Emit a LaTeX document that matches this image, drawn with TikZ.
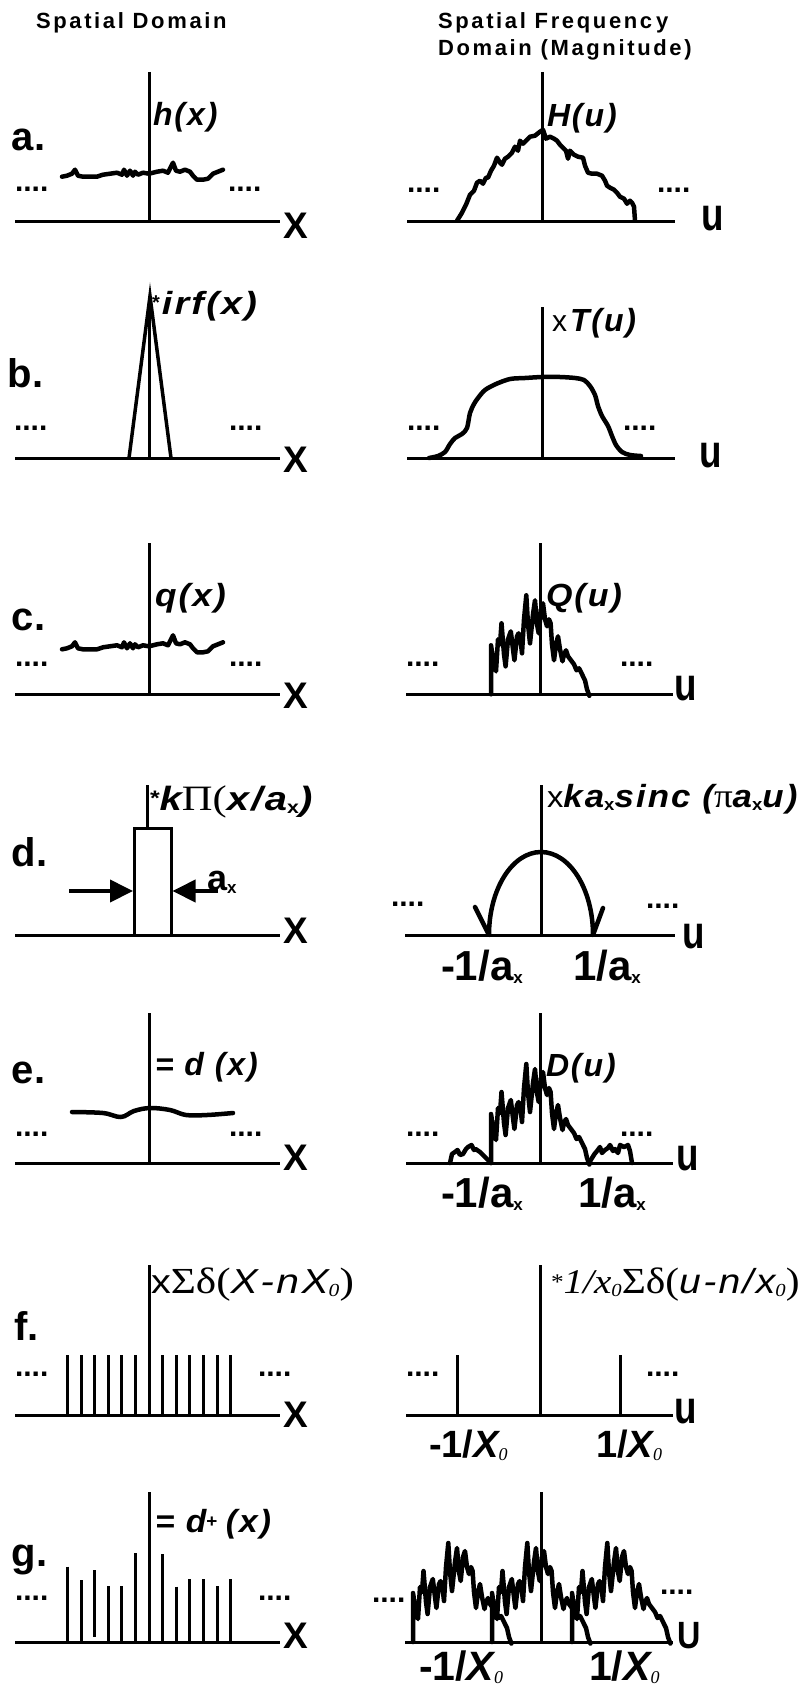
\documentclass[tikz,border=0pt]{standalone}
\usepackage{fontspec}
\setmainfont{Liberation Sans}
\newfontfamily\SA{Liberation Sans}
\newfontfamily\SAL{Liberation Sans}[LetterSpace=6]
\newfontfamily\SAT{Liberation Sans}[LetterSpace=12]
\newfontfamily\SE{Liberation Serif}
\usetikzlibrary{arrows.meta}
\newcommand\fs[1]{\fontsize{#1}{#1}\selectfont}
\newcommand\FN{\SAL\bfseries\itshape\fs{32}}
\newcommand\sbs[1]{\raisebox{-0.35em}{\SA\bfseries\fs{17}#1}}
\newcommand\sbi[1]{\raisebox{-0.35em}{\SE\itshape\fs{18}#1}}
\newcommand\stx{\raisebox{0.42em}{\SA\bfseries\fs{20}*}}
\newcommand\AX{\SA\bfseries\fs{37}}
\newcommand\UU{\scalebox{0.8}[1]{\SA\bfseries\fs{46}u}}
\newcommand\RL{\SA\bfseries\fs{40}}
\newcommand\TK{\SA\bfseries\fs{42}}
\newcommand\TKX{\SA\bfseries\fs{38}}
\newcommand\hsig[1]{\begin{scope}[shift={(0,#1)}]
\draw[sig] (62,-45) -- (67,-46) -- (72,-48) -- (75,-52) -- (78,-46) -- (83,-45) -- (90,-45) -- (97,-45) -- (103,-47) -- (110,-48) -- (117,-49) -- (122,-47) -- (124,-52) -- (127,-46) -- (130,-51) -- (133,-46) -- (135,-50) -- (138,-47) -- (143,-49) -- (149,-48) -- (157,-50) -- (163,-51) -- (168,-49) -- (173,-59) -- (176,-51) -- (180,-50) -- (185,-52) -- (190,-50) -- (193,-46) -- (197,-42) -- (203,-42) -- (208,-43) -- (213,-48) -- (218,-50) -- (223,-52);
\end{scope}}
\newcommand\qsig[2]{\begin{scope}[shift={(#1,#2)}]
\draw[sig] (-49,0) -- (-49,-49) -- (-46,-30) -- (-44,-23) -- (-42,-55) -- (-40,-50) -- (-38.5,-71) -- (-36,-40) -- (-34.4,-28) -- (-32,-55) -- (-29.2,-63) -- (-27,-45) -- (-25.6,-34) -- (-23,-58) -- (-21.4,-61) -- (-19,-50) -- (-18,-41) -- (-16,-75) -- (-13.7,-99) -- (-12,-70) -- (-10,-51) -- (-7,-80) -- (-5,-94) -- (-3,-70) -- (-1.3,-61) -- (1,-85) -- (3,-91) -- (5,-75) -- (7,-68) -- (9,-75) -- (10.6,-71) -- (12,-50) -- (14,-34) -- (16,-50) -- (18,-58) -- (20,-45) -- (22.5,-33) -- (24,-40) -- (26,-44) -- (28,-38) -- (31,-34) -- (34,-30) -- (36.5,-24) -- (39,-26) -- (41.6,-21) -- (43,-18) -- (45,-14) -- (47,-5) -- (49.4,1.5);
\end{scope}}
\begin{document}
\begin{tikzpicture}[x=1pt,y=-1pt,
  axis/.style={line width=3pt},
  sig/.style={line width=4.5pt,line join=round,line cap=round},
  spike/.style={line width=3pt},
  lbl/.style={inner sep=0pt,outer sep=0pt,anchor=base west},
  dotsn/.style={inner sep=0pt,outer sep=0pt,anchor=base west,font=\SA\bfseries\fs{30}},
  arr/.style={line width=4pt,-{Triangle[length=23pt,width=22pt]}}]
\fill[white] (0,0) rectangle (811,1686);
\useasboundingbox (0,0) rectangle (811,1686);
% titles
\node[lbl,font=\SAT\bfseries\fs{22}] (t1) at (36,29) {Spatial Domain};
\node[lbl,font=\SAT\bfseries\fs{22}] (t2) at (438,29) {Spatial Frequenc\hspace{4pt}y};
\node[lbl,font=\SAT\bfseries\fs{22}] (t3) at (438,56) {Domain (Magnitude)};
% ---------------- row a
\node[lbl,font=\RL] (la) at (12,150) {a.};
\draw[axis] (15,221.7) -- (280,221.7);
\draw[axis] (149,72) -- (149,221.7);
\node[lbl] (ax) at (283,238) {\AX X};
\node[lbl] (ah) at (153,125) {\FN h(x)};
\node[dotsn] (ad1) at (15,191) {....};
\node[dotsn] (ad2) at (228,191) {....};
\hsig{221.7}
\draw[axis] (407,221.7) -- (675,221.7);
\draw[axis] (542.7,72) -- (542.7,221.7);
\node[lbl] (au) at (701,230) {\UU};
\node[lbl] (aH) at (547,126) {\FN H(u)};
\node[dotsn] (ad3) at (407,192) {....};
\node[dotsn] (ad4) at (657,192) {....};
\begin{scope}[shift={(0,220.7)}]
\draw[sig] (457,0) -- (462,-8) -- (466,-16) -- (468,-21) -- (470,-26) -- (474,-30) -- (477,-38) -- (480,-40) -- (483,-37) -- (486,-43) -- (488,-43) -- (491,-50) -- (494,-55) -- (497,-63) -- (500,-58) -- (502,-56) -- (505,-62) -- (508,-64) -- (512,-68) -- (515,-74) -- (518,-70) -- (520,-80) -- (523,-77) -- (526,-80) -- (530,-84) -- (535,-85) -- (540,-89) -- (543,-91) -- (546,-82) -- (550,-84) -- (554,-82) -- (557,-80) -- (560,-76) -- (563,-73) -- (566,-70) -- (568,-62) -- (570,-70) -- (574,-66) -- (578,-64) -- (583,-63) -- (585,-55) -- (588,-48) -- (592,-47) -- (597,-47) -- (602,-45) -- (605,-40) -- (607,-35) -- (610,-33) -- (614,-31) -- (617,-28) -- (620,-24) -- (624,-22) -- (627,-17) -- (630,-20) -- (632,-18) -- (634,-14) -- (635,0);
\end{scope}
% ---------------- row b
\node[lbl,font=\RL] (lb) at (8,387) {b.};
\draw[axis] (15,458) -- (280,458);
\draw[axis] (149,296) -- (149,458);
\draw[line width=3.5pt,line join=miter] (129,458) -- (150,296) -- (171,458);
\node[lbl] (bx) at (283,472) {\AX X};
\node[lbl] (birf) at (152,314) {\stx\hspace{2pt}\scalebox{1.18}[1]{\FN irf(x)}};
\node[dotsn] (bd1) at (14,430) {....};
\node[dotsn] (bd2) at (229,430) {....};
\draw[axis] (407,458) -- (675,458);
\draw[axis] (542,307) -- (542,458);
\node[lbl] (bu) at (699,467) {\UU};
\node[lbl] (bT) at (552,331) {{\SA\fs{30}x}\hspace{3pt}{\FN T(u)}};
\node[dotsn] (bd3) at (407,430) {....};
\node[dotsn] (bd4) at (623,430) {....};
\begin{scope}[shift={(0,458)}]
\draw[sig] plot[smooth,tension=0.5] coordinates {(429,0) (438,-2) (445,-6) (450,-14) (455,-20) (462,-24) (467,-30) (470,-45) (474,-54) (478,-60) (485,-68) (496,-74) (510,-79) (525,-80) (542,-81) (560,-81) (575,-80) (584,-78) (590,-72) (595,-63) (598,-52) (602,-42) (608,-32) (612,-22) (616,-13) (622,-6) (630,-3) (641,-2)};
\end{scope}
% ---------------- row c
\node[lbl,font=\RL] (lc) at (12,630) {c.};
\draw[axis] (15,694.3) -- (280,694.3);
\draw[axis] (149,543) -- (149,694.3);
\node[lbl] (cx) at (283,708) {\AX X};
\node[lbl] (cq) at (155,606) {\scalebox{1.1}[1]{\FN q(x)}};
\node[dotsn] (cd1) at (15,666) {....};
\node[dotsn] (cd2) at (229,666) {....};
\hsig{694.3}
\draw[axis] (406,694.3) -- (673,694.3);
\draw[axis] (540,543) -- (540,694.3);
\node[lbl] (cu) at (674,700) {\UU};
\node[lbl] (cQ) at (546,606) {\scalebox{1.06}[1]{\FN Q(u)}};
\node[dotsn] (cd3) at (406,666) {....};
\node[dotsn] (cd4) at (620,666) {....};
\qsig{540}{694.3}
% ---------------- row d
\node[lbl,font=\RL] (ld) at (12,866) {d.};
\draw[axis] (15,935) -- (280,935);
\draw[axis] (147,785) -- (147,828);
\draw[line width=3pt] (134.5,935) -- (134.5,828) -- (171,828) -- (171,935);
\draw[arr] (69,891) -- (133,891);
\draw[arr] (218,891) -- (172.5,891);
\node[lbl] (dax) at (207,890) {{\SA\bfseries\fs{36}a}\sbs{x}};
\node[lbl] (dx) at (283,943) {\AX X};
\node[lbl] (dk) at (150,810) {\scalebox{1.25}[1.05]{\stx{\FN k}{\SE\fs{34}Π(}{\FN x/a}\sbs{x}{\FN)}}};
\draw[axis] (405,935) -- (675,935);
\draw[axis] (541.7,785) -- (541.7,935);
\node[lbl] (du) at (682,948) {\UU};
\node[lbl] (dsinc) at (547,807) {\scalebox{1.09}[1]{{\SA\fs{30}x}{\FN ka}\sbs{x}{\FN sinc (}{\SE\fs{34}π}{\FN a}\sbs{x}{\FN u)}}};
\node[dotsn] (dd1) at (391,906) {....};
\node[dotsn] (dd2) at (646,908) {....};
\draw[sig] (475,907) -- (489,935) arc[start angle=180,end angle=360,x radius=52,y radius=83] -- (603,908);
\node[lbl] (dm1) at (441,980) {{\TK -1/a}\sbs{x}};
\node[lbl] (dp1) at (573,980) {{\TK 1/a}\sbs{x}};
% ---------------- row e
\node[lbl,font=\RL] (le) at (12,1083) {e.};
\draw[axis] (15,1163) -- (280,1163);
\draw[axis] (149,1013) -- (149,1163);
\node[lbl] (ex) at (283,1170) {\AX X};
\node[lbl] (ed) at (155,1075) {\FN = d (x)};
\node[dotsn] (ed1) at (15,1136) {....};
\node[dotsn] (ed2) at (229,1136) {....};
\draw[sig] plot[smooth,tension=0.6] coordinates {(72,1112) (103,1113) (121,1117) (134,1111) (150,1108) (170,1110) (186,1115) (207,1115) (233,1113)};
\draw[axis] (406,1163) -- (673,1163);
\draw[axis] (540,1013) -- (540,1163);
\node[lbl] (eu) at (676,1170) {\UU};
\node[lbl] (eD) at (546,1076) {\FN D(u)};
\node[dotsn] (ed3) at (406,1136) {....};
\node[dotsn] (ed4) at (620,1136) {....};
\qsig{540}{1163}
\begin{scope}[shift={(540,1163)}]
\draw[sig] (-90,0) -- (-88,-9) -- (-85,-11) -- (-82.5,-13) -- (-80,-8) -- (-77,-9) -- (-74,-14) -- (-72,-16) -- (-68.5,-18) -- (-66,-13) -- (-64.4,-14) -- (-60,-11) -- (-57,-8) -- (-49,0);
\draw[sig] (49,0) -- (52,-5) -- (54.5,-9) -- (57,-12) -- (60,-16) -- (62,-10) -- (65,-13) -- (68,-15) -- (70,-18) -- (73,-12) -- (75,-14) -- (78,-10) -- (80,-18) -- (84,-16) -- (88,-18) -- (90,-12) -- (92,0);
\end{scope}
\node[lbl] (em1) at (441,1207) {{\TK -1/a}\sbs{x}};
\node[lbl] (ep1) at (578,1207) {{\TK 1/a}\sbs{x}};
% ---------------- row f
\node[lbl,font=\RL] (lf) at (14,1340) {f.};
\draw[axis] (15,1415) -- (280,1415);
\draw[axis] (149,1265) -- (149,1415);
\foreach \k in {-6,...,-1,1,2,...,6}{\draw[spike] (149+13.6*\k,1355) -- (149+13.6*\k,1415);}
\node[lbl] (fx) at (283,1427) {\AX X};
\node[lbl] (fl) at (151,1293) {\scalebox{1.2}[1.02]{{\SA\fs{33}x}{\SE\fs{36}Σδ(}{\SAL\itshape\fs{34}X-nX}\sbi{0}{\SE\fs{36})}}};
\node[dotsn] (fd1) at (15,1376) {....};
\node[dotsn] (fd2) at (258,1376) {....};
\draw[axis] (406,1415) -- (673,1415);
\draw[axis] (540,1265) -- (540,1415);
\draw[spike] (457.5,1355) -- (457.5,1415);
\draw[spike] (620,1355) -- (620,1415);
\node[lbl] (fu) at (674,1423) {\UU};
\node[lbl] (fr) at (551,1293) {\scalebox{1.15}[1.02]{\raisebox{0.35em}{\SE\fs{22}*}{\SE\itshape\fs{34}1/x}\sbi{0}{\SE\fs{36}Σδ(}{\SAL\itshape\fs{34}u-n/x}\sbi{0}{\SE\fs{36})}}};
\node[dotsn] (fd3) at (406,1376) {....};
\node[dotsn] (fd4) at (646,1376) {....};
\node[lbl] (fm1) at (429,1457) {{\TKX -1/}{\SA\bfseries\itshape\fs{38}X}\sbi{0}};
\node[lbl] (fp1) at (596,1457) {{\TKX 1/}{\SA\bfseries\itshape\fs{38}X}\sbi{0}};
% ---------------- row g
\node[lbl,font=\RL] (lg) at (12,1566) {g.};
\draw[axis] (15,1642) -- (280,1642);
\draw[axis] (149,1492) -- (149,1642);
\draw[spike] (67.4,1566.7) -- (67.4,1642);
\draw[spike] (81,1580) -- (81,1642);
\draw[spike] (94.6,1570) -- (94.6,1637);
\draw[spike] (108.2,1586) -- (108.2,1642);
\draw[spike] (121.8,1586) -- (121.8,1642);
\draw[spike] (135.4,1553) -- (135.4,1642);
\draw[spike] (162.6,1554) -- (162.6,1642);
\draw[spike] (176.2,1586.7) -- (176.2,1642);
\draw[spike] (189.8,1579) -- (189.8,1642);
\draw[spike] (203.4,1579) -- (203.4,1642);
\draw[spike] (217,1586) -- (217,1642);
\draw[spike] (230.6,1579) -- (230.6,1642);
\node[lbl] (gx) at (283,1648) {\AX X};
\node[lbl] (gd) at (155,1532) {\scalebox{1.05}[1]{{\FN = d}\raisebox{0.5em}{\SA\bfseries\fs{18}+}\hspace{8pt}{\FN (x)}}};
\node[dotsn] (gd1) at (15,1600) {....};
\node[dotsn] (gd2) at (258,1600) {....};
\draw[axis] (405,1642) -- (673,1642);
\draw[axis] (541.7,1492) -- (541.7,1642);
\qsig{462}{1642}
\qsig{541}{1642}
\qsig{621}{1642}
\node[lbl] (gu) at (677,1648) {\scalebox{0.85}[1]{\SA\bfseries\fs{38}U}};
\node[dotsn] (gd3) at (372,1602) {....};
\node[dotsn] (gd4) at (660,1594) {....};
\node[lbl] (gm1) at (419,1680) {{\SA\bfseries\fs{41}-1/}{\SA\bfseries\itshape\fs{41}X}\sbi{0}};
\node[lbl] (gp1) at (589,1680) {{\SA\bfseries\fs{41}1/}{\SA\bfseries\itshape\fs{41}X}\sbi{0}};
\end{tikzpicture}
\end{document}
